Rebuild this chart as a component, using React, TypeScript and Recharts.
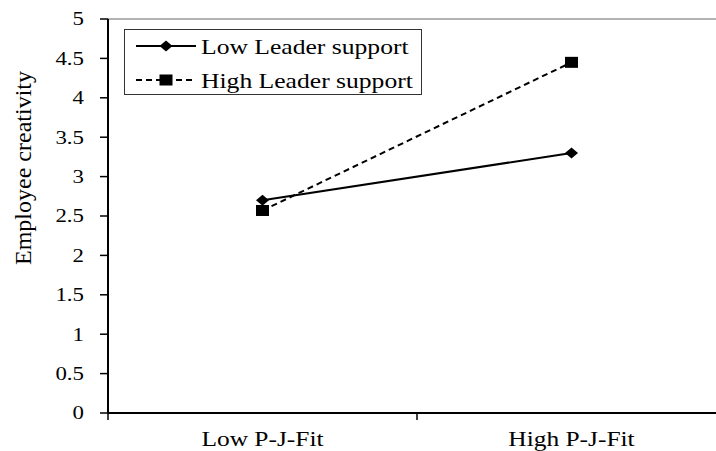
import React from "react";
import { LineChart, Line, XAxis, YAxis, ReferenceLine } from "recharts";

const categories = ["Low P-J-Fit", "High P-J-Fit"];
const seriesNames = ["Low Leader support", "High Leader support"];
const lowLeader = [2.7, 3.3];
const highLeader = [2.57, 4.45];
const yTicks = [0, 0.5, 1, 1.5, 2, 2.5, 3, 3.5, 4, 4.5, 5];

const data = categories.map((c, i) => ({
  fit: c,
  low: lowLeader[i],
  high: highLeader[i],
}));

const W = 740;
const H = 451;
const M = { top: 19, right: 14, bottom: 0, left: 0 };
const Y_W = 108;
const X_H = 38;
const BAND = (W - M.left - M.right - Y_W) / categories.length;
const FONT = "Liberation Serif";
// the source picture is stretched sideways, so the text is too
const STRETCH = 1.27;

function Diamond(props: any) {
  const { cx, cy } = props;
  if (cx == null || cy == null) return null;
  return (
    <polygon
      points={`${cx - 6.5},${cy} ${cx},${cy - 5.5} ${cx + 6.5},${cy} ${cx},${cy + 5.5}`}
      fill="#000"
    />
  );
}

function Square(props: any) {
  const { cx, cy } = props;
  if (cx == null || cy == null) return null;
  return <rect x={cx - 6.5} y={cy - 5.5} width={13} height={11} fill="#000" />;
}

function XTick(props: any) {
  const { x, y, payload, index } = props;
  const last = index === categories.length - 1;
  return (
    <g>
      <line x1={x - BAND / 2} y1={y} x2={x - BAND / 2} y2={y + 7} stroke="#000" strokeWidth={1.5} />
      {last && (
        <line x1={x + BAND / 2} y1={y} x2={x + BAND / 2} y2={y + 7} stroke="#000" strokeWidth={1.5} />
      )}
      <text
        transform={`translate(${x},${y + 33}) scale(${STRETCH},1)`}
        textAnchor="middle"
        fill="#000"
        style={{ fontFamily: FONT, fontSize: 20 }}
      >
        {payload.value}
      </text>
    </g>
  );
}

function YTick(props: any) {
  const { x, y, payload } = props;
  return (
    <text
      transform={`translate(${x},${y}) scale(${STRETCH},1)`}
      dy="0.355em"
      textAnchor="end"
      fill="#000"
      style={{ fontFamily: FONT, fontSize: 18 }}
    >
      {payload.value}
    </text>
  );
}

// legend drawn as a plain box over the plot
function LegendBox() {
  return (
    <div
      style={{
        position: "absolute",
        left: 124,
        top: 29,
        width: 296,
        height: 64,
        border: "1px solid #333",
        background: "#fff",
      }}
    >
      <svg width={296} height={64} style={{ display: "block" }}>
        {seriesNames.map((name, i) => {
          const cy = 16 + i * 34;
          const dashed = i === 1;
          return (
            <g key={name}>
              <line
                x1={11}
                y1={cy}
                x2={71}
                y2={cy}
                stroke="#000"
                strokeWidth={1.8}
                strokeDasharray={dashed ? "6 4" : undefined}
              />
              {dashed ? <Square cx={41} cy={cy} /> : <Diamond cx={41} cy={cy} />}
              <text
                transform={`translate(76,${cy + 8}) scale(1.22,1)`}
                fill="#000"
                style={{ fontFamily: FONT, fontSize: 21 }}
              >
                {name}
              </text>
            </g>
          );
        })}
      </svg>
    </div>
  );
}

export default function App() {
  return (
    <div
      style={{
        position: "absolute",
        left: 0,
        top: 0,
        width: 716,
        height: 451,
        overflow: "hidden",
        background: "#fff",
        fontFamily: FONT,
      }}
    >
      <LineChart width={W} height={H} data={data} margin={M} style={{ fontFamily: FONT }}>
        <ReferenceLine y={5} stroke="#999" strokeWidth={1.5} />
        <XAxis
          dataKey="fit"
          scale="band"
          height={X_H}
          axisLine={{ stroke: "#000", strokeWidth: 2 }}
          tickLine={false}
          tickSize={0}
          tickMargin={0}
          tick={<XTick />}
          interval={0}
        />
        <YAxis
          domain={[0, 5]}
          ticks={yTicks}
          width={Y_W}
          axisLine={{ stroke: "#000", strokeWidth: 2 }}
          tickLine={{ stroke: "#000", strokeWidth: 1.5 }}
          tickSize={8}
          tickMargin={16}
          tick={<YTick />}
          label={() => (
            <text
              transform="translate(31,168) rotate(-90)"
              textAnchor="middle"
              fill="#000"
              style={{ fontFamily: FONT, fontSize: 24 }}
            >
              Employee creativity
            </text>
          )}
        />
        <Line
          name={seriesNames[0]}
          dataKey="low"
          stroke="#000"
          strokeWidth={2}
          dot={(p: any) => <Diamond key={`d${p.index}`} {...p} />}
          isAnimationActive={false}
        />
        <Line
          name={seriesNames[1]}
          dataKey="high"
          stroke="#000"
          strokeWidth={2}
          strokeDasharray="6 4"
          dot={(p: any) => <Square key={`s${p.index}`} {...p} />}
          isAnimationActive={false}
        />
      </LineChart>
      <LegendBox />
    </div>
  );
}
